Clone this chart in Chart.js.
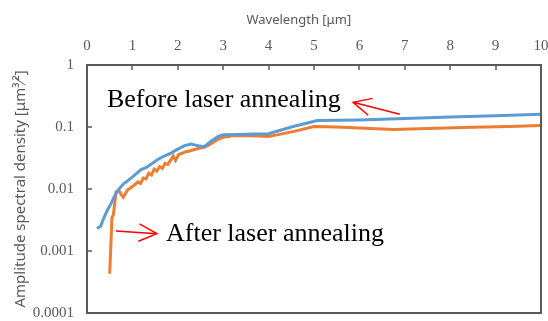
<!DOCTYPE html>
<html>
<head>
<meta charset="utf-8">
<script src="https://cdn.jsdelivr.net/npm/chart.js@4/dist/chart.umd.min.js"></script>
<style>
  body { margin: 0; background: #fff; overflow: hidden; }
  canvas { display: block; }
</style>
</head>
<body>
<canvas id="chart" width="548" height="321"></canvas>
<script>
// wavelength (um) and amplitude spectral density
var beforeX = [0.22, 0.3, 0.37, 0.45, 0.53, 0.6, 0.68, 0.8, 0.97, 1.1, 1.19, 1.3, 1.41, 1.56, 1.7, 1.85, 2.0, 2.15, 2.29, 2.45, 2.58, 2.72, 2.88, 3.0, 3.3, 3.7, 4.0, 4.5, 5.07, 6, 7, 8, 9, 10];
var beforeY = [0.0023, 0.0025, 0.0034, 0.0046, 0.0058, 0.0075, 0.0095, 0.012, 0.015, 0.018, 0.0205, 0.022, 0.025, 0.030, 0.034, 0.038, 0.044, 0.05, 0.053, 0.05, 0.048, 0.058, 0.07, 0.075, 0.076, 0.077, 0.078, 0.1, 0.127, 0.13, 0.137, 0.145, 0.152, 0.16];

var afterX = [0.5, 0.55, 0.58, 0.64, 0.7, 0.75, 0.8, 0.9, 1.0, 1.06, 1.12, 1.18, 1.24, 1.3, 1.36, 1.42, 1.48, 1.54, 1.6, 1.66, 1.72, 1.78, 1.84, 1.9, 1.95, 2.02, 2.1, 2.18, 2.26, 2.35, 2.45, 2.58, 2.7, 2.8, 2.88, 3.0, 3.24, 3.6, 4.0, 4.56, 5.0, 5.5, 6.0, 6.76, 7.5, 8.5, 9.3, 10];
var afterY = [0.00043, 0.0035, 0.0038, 0.009, 0.0095, 0.0082, 0.0074, 0.0097, 0.011, 0.0118, 0.013, 0.0123, 0.015, 0.0145, 0.018, 0.0168, 0.021, 0.0195, 0.023, 0.0215, 0.026, 0.025, 0.029, 0.034, 0.029, 0.036, 0.038, 0.04, 0.041, 0.043, 0.045, 0.047, 0.052, 0.058, 0.063, 0.068, 0.073, 0.072, 0.07, 0.085, 0.102, 0.1, 0.096, 0.091, 0.095, 0.099, 0.102, 0.106];

var seriesNames = ['Before laser annealing', 'After laser annealing'];
var xTicks = [0, 1, 2, 3, 4, 5, 6, 7, 8, 9, 10];
var yTicks = [0.0001, 0.001, 0.01, 0.1, 1];
var yTickLabels = ['0.0001', '0.001', '0.01', '0.1', '1'];

function pairs(xs, ys) {
  return xs.map(function (x, i) { return { x: x, y: ys[i] }; });
}

var axisColor = '#595959';
var tickFont = { family: 'Liberation Serif', size: 15 };

// text labels with red arrows, placed in data units
var notes = [
  { text: seriesNames[0], x: 0.44, y: 0.27, tail: [6.89, 0.16], tip: [5.86, 0.25] },
  { text: seriesNames[1], x: 1.74, y: 0.00186, tail: [0.64, 0.0021], tip: [1.54, 0.0019] }
];

var framePlugin = {
  id: 'frame',
  afterDraw: function (chart) {
    var ctx = chart.ctx;
    var sx = chart.scales.x, sy = chart.scales.y;
    var l = Math.round(sx.getPixelForValue(0)), r = Math.round(sx.getPixelForValue(10));
    var t = Math.round(sy.getPixelForValue(1)), b = Math.round(sy.getPixelForValue(0.0001));
    ctx.save();
    ctx.fillStyle = axisColor;
    // box and inner tick marks
    ctx.fillRect(l - 1, t - 1, r - l + 2, 2);
    ctx.fillRect(l - 1, b - 1, r - l + 2, 2);
    ctx.fillRect(l - 1, t - 1, 2, b - t + 2);
    ctx.fillRect(r - 1, t - 1, 2, b - t + 2);
    xTicks.forEach(function (v) {
      var px = Math.round(sx.getPixelForValue(v));
      ctx.fillRect(px - 0.75, t, 1.5, 5);
    });
    yTicks.forEach(function (v) {
      var py = Math.round(sy.getPixelForValue(v));
      ctx.fillRect(l, py - 0.75, 5, 1.5);
    });

    ctx.font = '26px "Liberation Serif"';
    ctx.fillStyle = '#000';
    ctx.textBaseline = 'middle';
    ctx.textAlign = 'left';
    notes.forEach(function (n) {
      ctx.fillText(n.text, sx.getPixelForValue(n.x), sy.getPixelForValue(n.y));
      var x0 = sx.getPixelForValue(n.tail[0]), y0 = sy.getPixelForValue(n.tail[1]);
      var x1 = sx.getPixelForValue(n.tip[0]), y1 = sy.getPixelForValue(n.tip[1]);
      var ang = Math.atan2(y1 - y0, x1 - x0);
      ctx.strokeStyle = '#ff0000';
      ctx.lineWidth = 1.5;
      ctx.beginPath();
      ctx.moveTo(x0, y0);
      ctx.lineTo(x1, y1);
      ctx.moveTo(x1 - 20 * Math.cos(ang - 0.45), y1 - 20 * Math.sin(ang - 0.45));
      ctx.lineTo(x1, y1);
      ctx.lineTo(x1 - 20 * Math.cos(ang + 0.45), y1 - 20 * Math.sin(ang + 0.45));
      ctx.stroke();
    });
    ctx.restore();
  }
};

new Chart(document.getElementById('chart'), {
  type: 'scatter',
  data: {
    datasets: [{
      label: seriesNames[0],
      data: pairs(beforeX, beforeY),
      showLine: true,
      borderColor: '#5b9bd5',
      borderWidth: 3,
      pointRadius: 0,
      fill: false
    }, {
      label: seriesNames[1],
      data: pairs(afterX, afterY),
      showLine: true,
      borderColor: '#ed7d31',
      borderWidth: 3,
      pointRadius: 0,
      fill: false
    }]
  },
  options: {
    responsive: false,
    animation: false,
    layout: { padding: { left: 0, right: 7, top: 0, bottom: 8 } },
    plugins: { legend: { display: false }, tooltip: { enabled: false } },
    scales: {
      x: {
        type: 'linear',
        position: 'top',
        min: 0,
        max: 10,
        afterBuildTicks: function (s) { s.ticks = xTicks.map(function (v) { return { value: v }; }); },
        afterFit: function (s) { s.height = 65; s.paddingLeft = 0; s.paddingRight = 0; },
        ticks: { font: tickFont, color: axisColor, padding: 10, maxRotation: 0 },
        grid: { display: false, drawTicks: false },
        border: { display: false },
        title: { display: true, text: 'Wavelength [μm]' + '         ', font: { family: 'Noto Sans', size: 13 }, color: axisColor, padding: { top: 12, bottom: 0 } }
      },
      y: {
        type: 'logarithmic',
        min: 0.0001,
        max: 1,
        afterBuildTicks: function (s) { s.ticks = yTicks.map(function (v) { return { value: v }; }); },
        afterFit: function (s) { s.width = 87; s.paddingTop = 0; s.paddingBottom = 0; },
        ticks: {
          font: tickFont,
          color: axisColor,
          padding: 13,
          callback: function (v) { var i = yTicks.indexOf(v); return i < 0 ? '' : yTickLabels[i]; }
        },
        grid: { display: false, drawTicks: false },
        border: { display: false },
        title: { display: true, text: 'Amplitude spectral density [μm³⁄²]', font: { family: 'Noto Sans', size: 15 }, color: axisColor, padding: { top: 12, bottom: 0 } }
      }
    }
  },
  plugins: [framePlugin]
});
</script>
</body>
</html>
